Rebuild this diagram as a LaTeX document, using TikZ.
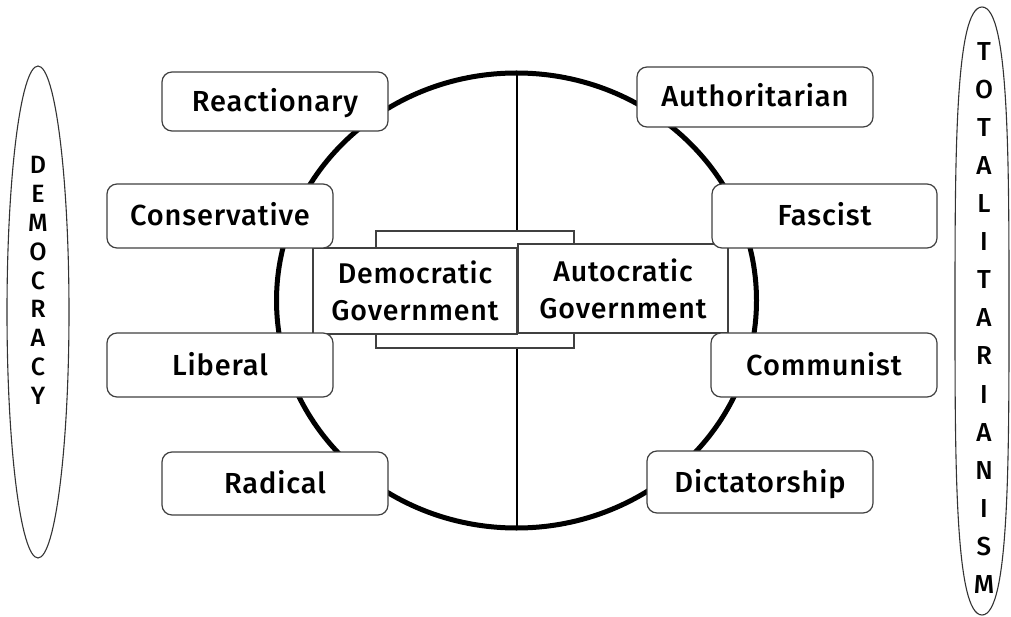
\documentclass[tikz,border=0pt]{standalone}
\usepackage{fontspec}
\setmainfont{Fira Sans}[UprightFont=* Medium, LetterSpace=3]
\usetikzlibrary{shapes.geometric}
\definecolor{edge}{HTML}{404040}
\tikzset{
  sidebox/.style={draw=edge, line width=1.2pt, rounded corners=10pt, fill=white,
    inner sep=0pt, text height=20pt, text depth=0pt,
    font=\fontsize{29}{35}\selectfont},
  govbox/.style={draw=edge, line width=1.2pt, fill=white, inner sep=0pt, align=center,
    font=\fontsize{28.5}{37}\selectfont},
  backbox/.style={draw=edge, line width=1.2pt, fill=white, inner sep=0pt},
  tallell/.style={draw=black!80, line width=1.1pt, ellipse, inner sep=0pt},
  tallline/.style={draw=black!80, line width=1.1pt},
  vtext/.style={inner sep=0pt, align=center, anchor=north}
}
\begin{document}
\begin{tikzpicture}[x=1pt,y=-1pt]
\useasboundingbox (0,0) rectangle (1011,617);
% big circle
\draw[line width=5pt] (516.5,300.5) ellipse [x radius=240pt, y radius=227.5pt];
\coordinate (vtop) at (517,73);
\coordinate (vbot) at (517,528);
\draw[line width=2pt] (vtop) -- (vbot);
% central boxes
\node[backbox, minimum width=198pt, minimum height=117pt] (back) at (475,289.5) {};
\node[govbox, minimum width=204pt, minimum height=86pt] (dem) at (415,291) {Democratic\\Government};
\node[govbox, minimum width=210pt, minimum height=89pt] (aut) at (623,288.5) {Autocratic\\Government};
% side boxes
\node[sidebox, minimum width=226pt, minimum height=59pt] (react) at (275,101.5) {Reactionary};
\node[sidebox, minimum width=226pt, minimum height=64pt] (cons) at (220,216) {Conservative};
\node[sidebox, minimum width=226pt, minimum height=64pt] (lib) at (220,365) {Liberal};
\node[sidebox, minimum width=226pt, minimum height=63pt] (rad) at (275,483.5) {Radical};
\node[sidebox, minimum width=236pt, minimum height=60pt] (auth) at (755,97) {Authoritarian};
\node[sidebox, minimum width=225pt, minimum height=64pt] (fasc) at (824.5,216) {Fascist};
\node[sidebox, minimum width=226pt, minimum height=64pt] (comm) at (824,365) {Communist};
\node[sidebox, minimum width=226pt, minimum height=62pt] (dict) at (760,482) {Dictatorship};
% side ellipses
\node[tallell, minimum width=62pt, minimum height=492pt] (demo) at (38,312) {};
\node[vtext, font=\fontsize{25}{28.9}\selectfont] (demotext) at (38,156)
  {D\\E\\M\\O\\C\\R\\A\\C\\Y};
\draw[tallline] (982,7) .. controls (1009,7) and (1009,159) .. (1009,311)
  .. controls (1009,463) and (1009,615) .. (982,615)
  .. controls (955,615) and (955,463) .. (955,311)
  .. controls (955,159) and (955,7) .. (982,7) -- cycle;
\node[vtext, font=\fontsize{26}{38.1}\selectfont] (totatext) at (984,42)
  {T\\O\\T\\A\\L\\I\\T\\A\\R\\I\\A\\N\\I\\S\\M};
\end{tikzpicture}
\end{document}
